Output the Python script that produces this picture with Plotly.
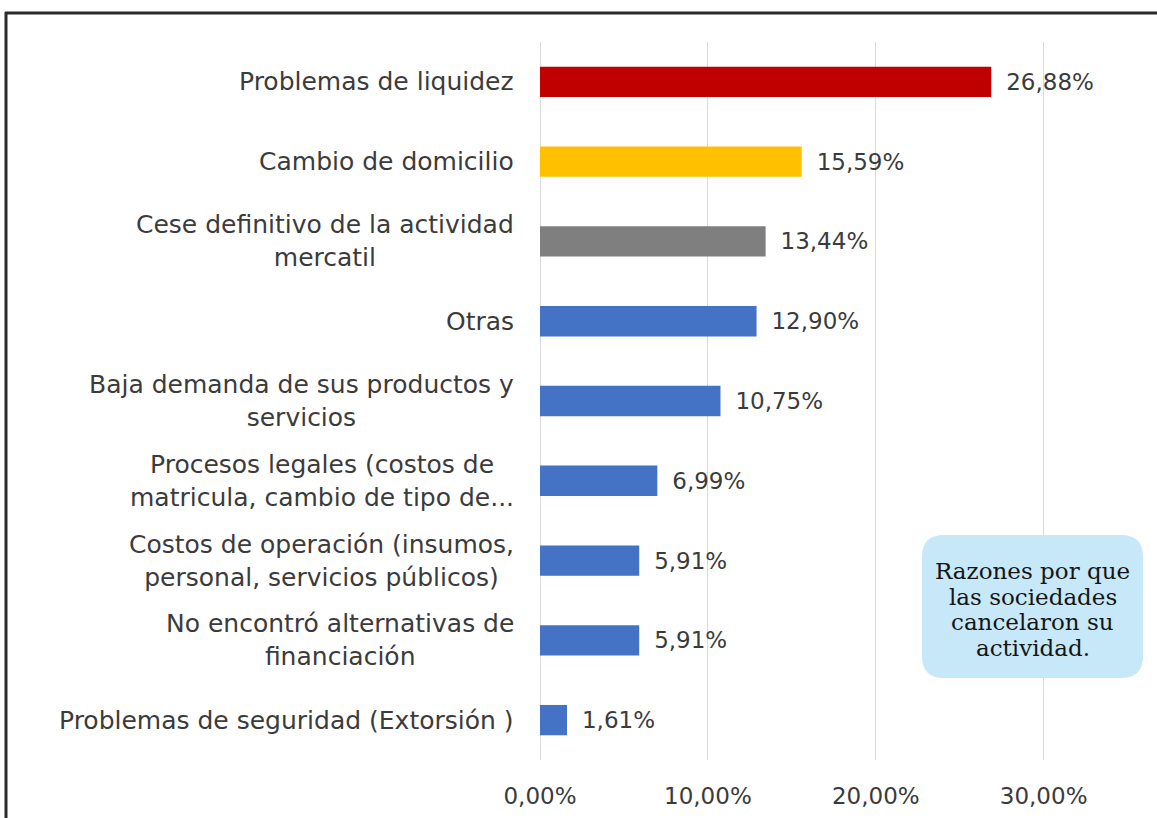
import plotly.graph_objects as go

categories = [
    "Problemas de liquidez",
    "Cambio de domicilio",
    "Cese definitivo de la actividad<br>mercatil",
    "Otras",
    "Baja demanda de sus productos y<br>servicios",
    "Procesos legales (costos de<br>matricula, cambio de tipo de...",
    "Costos de operación (insumos,<br>personal, servicios públicos)",
    "No encontró alternativas de<br>financiación",
    "Problemas de seguridad (Extorsión )",
]
values = [26.88, 15.59, 13.44, 12.90, 10.75, 6.99, 5.91, 5.91, 1.61]
colors = ["#C00000", "#FFC000", "#7F7F7F", "#4472C4", "#4472C4",
          "#4472C4", "#4472C4", "#4472C4", "#4472C4"]
x_ticks = [0, 10, 20, 30]
x_tick_labels = ["0,00%", "10,00%", "20,00%", "30,00%"]
box_lines = ["Razones por que", "las sociedades", "cancelaron su", "actividad."]

W, H = 1157, 818
L, R, T, B = 540, 63, 42, 58
pw, ph = W - L - R, H - T - B

def px_x(p):
    return (p - L) / pw

def px_y(p):
    return (H - B - p) / ph

label_font = dict(family="DejaVu Sans", size=25, color="#3b3b3b")
value_font = dict(family="DejaVu Sans", size=23, color="#3b3b3b")

fig = go.Figure()
fig.add_trace(go.Bar(
    y=list(range(len(values))),
    x=values,
    orientation="h",
    marker=dict(color=colors, line=dict(width=0)),
    texttemplate="\u00a0\u2009%{x:.2f}%",
    textposition="outside",
    textfont=value_font,
    cliponaxis=False,
    hoverinfo="skip",
))

annotations = []
for i, cat in enumerate(categories):
    annotations.append(dict(
        x=px_x(516), xref="paper", y=i, yref="y",
        text=cat, showarrow=False, xanchor="right", yanchor="middle",
        align="center", font=label_font,
    ))

# rounded box
bx0, bx1, by0, by1, r = 922, 1143, 535, 678, 22
rx, ry = r / pw, r / ph
x0, x1 = px_x(bx0), px_x(bx1)
y0, y1 = px_y(by1), px_y(by0)
path = (f"M {x0+rx},{y0} L {x1-rx},{y0} Q {x1},{y0} {x1},{y0+ry} "
        f"L {x1},{y1-ry} Q {x1},{y1} {x1-rx},{y1} "
        f"L {x0+rx},{y1} Q {x0},{y1} {x0},{y1-ry} "
        f"L {x0},{y0+ry} Q {x0},{y0} {x0+rx},{y0} Z")
shapes = [
    dict(type="path", path=path, xref="paper", yref="paper",
         fillcolor="#C6E8F8", line=dict(width=0), layer="above"),
    dict(type="line", xref="paper", yref="paper",
         x0=px_x(5), x1=px_x(W + 5), y0=px_y(13), y1=px_y(13),
         line=dict(color="#2b2b2b", width=3)),
    dict(type="line", xref="paper", yref="paper",
         x0=px_x(6), x1=px_x(6), y0=px_y(12), y1=px_y(H + 5),
         line=dict(color="#2b2b2b", width=3)),
]
cy = (by0 + by1) / 2 + 3
spacing = 25.7
for k, line in enumerate(box_lines):
    yy = cy + (k - (len(box_lines) - 1) / 2) * spacing
    annotations.append(dict(
        x=(x0 + x1) / 2, y=px_y(yy), xref="paper", yref="paper",
        text=line, showarrow=False, xanchor="center", yanchor="middle",
        font=dict(family="DejaVu Serif", size=23, color="#151515"),
    ))

fig.update_layout(
    width=W, height=H,
    margin=dict(l=L, r=R, t=T, b=B, autoexpand=False),
    paper_bgcolor="white", plot_bgcolor="white",
    separators=",.",
    showlegend=False,
    bargap=0.62,
    shapes=shapes,
    annotations=annotations,
    xaxis=dict(
        range=[0, 33], tickvals=x_ticks, ticktext=x_tick_labels,
        showgrid=True, gridcolor="#D9D9D9", gridwidth=1,
        zeroline=True, zerolinecolor="#D9D9D9", zerolinewidth=1,
        showline=False, ticks="", tickfont=value_font, ticklabelstandoff=20,
    ),
    yaxis=dict(
        range=[len(values) - 0.5, -0.5], showticklabels=False,
        showgrid=False, zeroline=False, showline=False, ticks="",
    ),
)

fig.write_html("out.html", config={"displayModeBar": False},
               post_script="document.body.style.margin='0px';")
